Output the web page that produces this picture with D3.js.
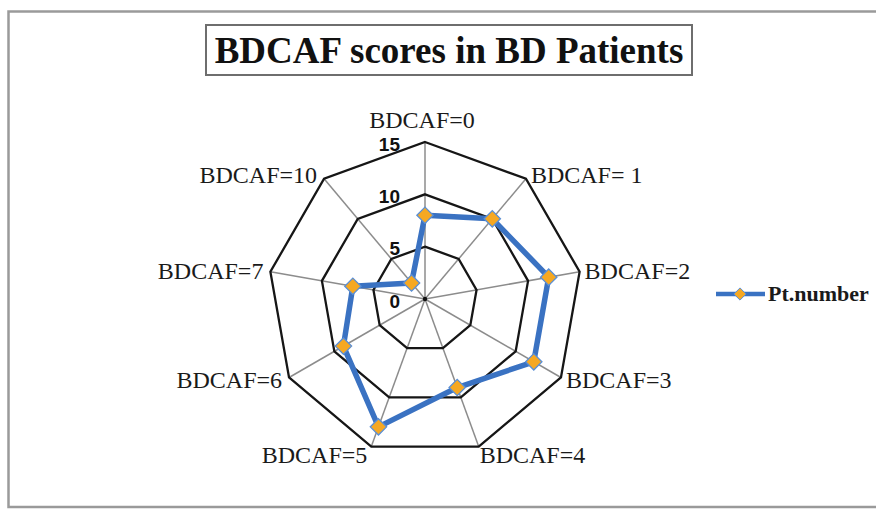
<!DOCTYPE html>
<html>
<head>
<meta charset="utf-8">
<script src="https://cdn.jsdelivr.net/npm/d3@7"></script>
<style>
  html, body { margin: 0; padding: 0; background: #fff; }
  svg { display: block; }
</style>
</head>
<body>
<svg id="chart" width="876" height="509"></svg>
<script>
// Radar chart data
const categories = ["BDCAF=0", "BDCAF= 1", "BDCAF=2", "BDCAF=3", "BDCAF=4", "BDCAF=5", "BDCAF=6", "BDCAF=7", "BDCAF=10"];
const ptNumber = [8, 10, 12, 12, 9, 13, 9, 7, 2];
const ringTicks = [0, 5, 10, 15];
const seriesName = "Pt.number";
const titleText = "BDCAF scores in BD Patients";

const svg = d3.select("#chart");
const cx = 425, cy = 299, R = 157;
const serif = "'Liberation Serif', 'Times New Roman', serif";

// chart-area frame
svg.append("rect")
  .attr("x", 8.5).attr("y", 11.5)
  .attr("width", 900).attr("height", 495.5)
  .attr("fill", "#fff")
  .attr("stroke", "#9a9a9a").attr("stroke-width", 2.5);

// title with box
svg.append("rect")
  .attr("x", 206).attr("y", 25)
  .attr("width", 486).attr("height", 50)
  .attr("fill", "#fff")
  .attr("stroke", "#6e6e6e").attr("stroke-width", 2);
svg.append("text")
  .attr("x", 449).attr("y", 63)
  .attr("text-anchor", "middle")
  .attr("font-family", serif)
  .attr("font-weight", "bold")
  .attr("font-size", 37)
  .attr("fill", "#111")
  .text(titleText);

const r = d3.scaleLinear().domain([0, 15]).range([0, R]);
const angle = d3.scalePoint().domain(categories).range([0, 2 * Math.PI * (categories.length - 1) / categories.length]);
const pt = (cat, v) => {
  const a = angle(cat);
  return [cx + r(v) * Math.sin(a), cy - r(v) * Math.cos(a)];
};

const g = svg.append("g");

// spokes
g.selectAll("line.spoke").data(categories).join("line")
  .attr("class", "spoke")
  .attr("x1", cx).attr("y1", cy)
  .attr("x2", d => pt(d, 15)[0]).attr("y2", d => pt(d, 15)[1])
  .attr("stroke", "#8c8c8c").attr("stroke-width", 1.5);

// rings
const ringLine = d3.line().curve(d3.curveLinearClosed);
g.selectAll("path.ring").data(ringTicks.filter(t => t > 0)).join("path")
  .attr("class", "ring")
  .attr("d", t => ringLine(categories.map(c => pt(c, t))))
  .attr("fill", "none")
  .attr("stroke", "#161616").attr("stroke-width", 2.3);

// center dot
g.append("circle").attr("cx", cx).attr("cy", cy).attr("r", 2.2).attr("fill", "#111");

// value axis labels
g.selectAll("text.tick").data(ringTicks).join("text")
  .attr("class", "tick")
  .attr("x", cx - 25)
  .attr("y", t => cy - r(t) + 2)
  .attr("text-anchor", "end")
  .attr("dominant-baseline", "central")
  .attr("font-family", "'Liberation Sans', Arial, sans-serif")
  .attr("font-weight", "bold")
  .attr("font-size", 19)
  .attr("fill", "#111")
  .text(t => t);

// category labels
g.selectAll("text.cat").data(categories).join("text")
  .attr("class", "cat")
  .each(function(d) {
    const a = angle(d), s = Math.sin(a), c = Math.cos(a);
    const [vx, vy] = pt(d, 15);
    const t = d3.select(this);
    if (Math.abs(s) < 0.1) {
      t.attr("x", vx - 3).attr("y", vy - 14).attr("text-anchor", "middle");
    } else if (c < -0.9) {
      t.attr("x", vx + (s > 0 ? 1 : -4)).attr("y", vy + 16)
       .attr("text-anchor", s > 0 ? "start" : "end");
    } else {
      t.attr("x", vx + (s > 0 ? 5 : -7)).attr("y", vy - c * 5 + 8)
       .attr("text-anchor", s > 0 ? "start" : "end");
    }
  })
  .attr("font-family", serif)
  .attr("font-size", 24)
  .attr("fill", "#1a1a1a")
  .text(d => d);

// series line
const blue = "#3a72c2", orange = "#f6a822";
g.append("path")
  .attr("d", ringLine(categories.map((c, i) => pt(c, ptNumber[i]))))
  .attr("fill", "none")
  .attr("stroke", blue).attr("stroke-width", 5.5)
  .attr("stroke-linejoin", "round");

const diamond = d3.symbol().type(d3.symbolDiamond2).size(170);
g.selectAll("path.mark").data(ptNumber).join("path")
  .attr("class", "mark")
  .attr("transform", (v, i) => { const p = pt(categories[i], v); return `translate(${p[0]},${p[1]})`; })
  .attr("d", diamond)
  .attr("fill", orange)
  .attr("stroke", "#5a8fd6").attr("stroke-width", 1.3);

// legend
const leg = svg.append("g");
leg.append("line").attr("x1", 716).attr("x2", 765).attr("y1", 294).attr("y2", 294)
  .attr("stroke", blue).attr("stroke-width", 4.5);
leg.append("path").attr("transform", "translate(740,294)")
  .attr("d", d3.symbol().type(d3.symbolDiamond2).size(95))
  .attr("fill", orange).attr("stroke", "#5a8fd6").attr("stroke-width", 1);
leg.append("text").attr("x", 768).attr("y", 301)
  .attr("font-family", serif)
  .attr("font-weight", "bold")
  .attr("font-size", 22)
  .attr("fill", "#1a1a1a")
  .text(seriesName);
</script>
</body>
</html>
